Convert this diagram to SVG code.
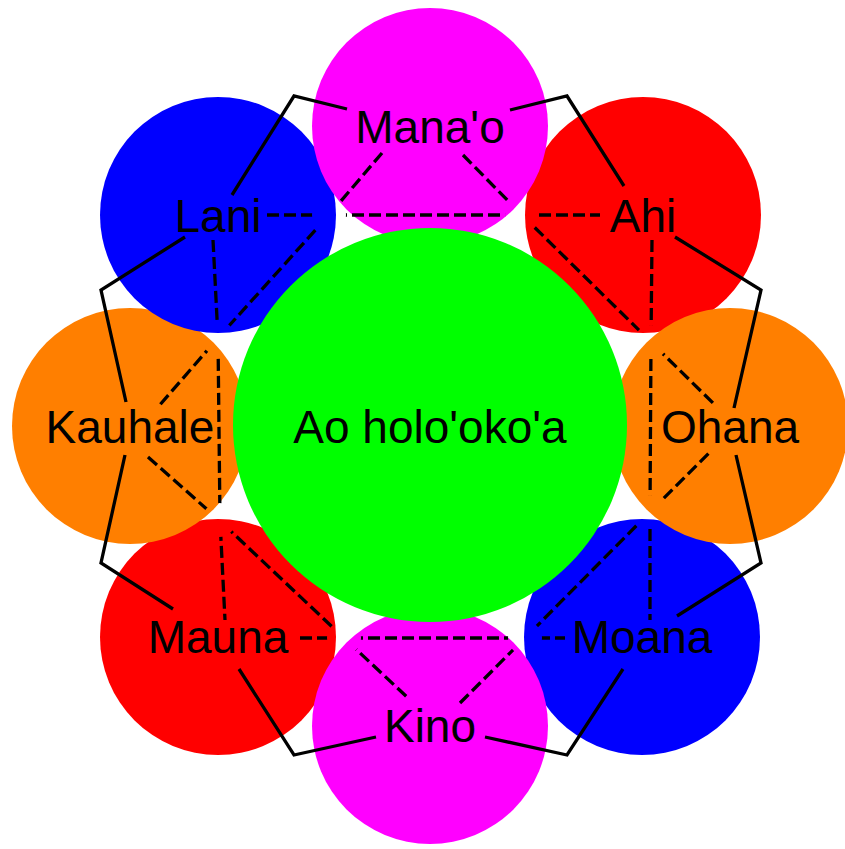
<svg xmlns="http://www.w3.org/2000/svg" width="845" height="849" viewBox="0 0 845 849">
<style>
.lbl{font-family:"Liberation Sans",Arial,sans-serif;font-size:46px;fill:#000;text-anchor:middle}
.solid{fill:none;stroke:#000;stroke-width:3.3;stroke-linejoin:miter}
.dash{fill:none;stroke:#000;stroke-width:3.3;stroke-dasharray:12,5}
</style>
<defs>
<mask id="gaps" maskUnits="userSpaceOnUse" x="0" y="0" width="845" height="849">
<rect x="0" y="0" width="845" height="849" fill="#fff"/>
<circle cx="329" cy="215" r="17" fill="#000"/>
<circle cx="522" cy="215" r="17" fill="#000"/>
<circle cx="218" cy="338" r="17" fill="#000"/>
<circle cx="651" cy="342" r="17" fill="#000"/>
<circle cx="219" cy="520" r="17" fill="#000"/>
<circle cx="650" cy="512" r="17" fill="#000"/>
<circle cx="344" cy="638" r="17" fill="#000"/>
<circle cx="525" cy="638" r="17" fill="#000"/>
</mask>
</defs>
<g id="circles">
<circle id="c-mauna" cx="218" cy="637" r="118" fill="#ff0000"/>
<circle id="c-ahi" cx="643" cy="215" r="118" fill="#ff0000"/>
<circle id="c-moana" cx="642" cy="637" r="118" fill="#0000ff"/>
<circle id="c-kino" cx="430" cy="726" r="118" fill="#ff00ff"/>
<circle id="c-kauhale" cx="130" cy="426" r="118" fill="#ff7f00"/>
<circle id="c-lani" cx="218" cy="215" r="118" fill="#0000ff"/>
<circle id="c-manao" cx="430" cy="126" r="118" fill="#ff00ff"/>
<circle id="c-ohana" cx="730" cy="426" r="118" fill="#ff7f00"/>
<circle id="c-center" cx="430" cy="425" r="197" fill="#00ff00"/>
</g>
<g id="connectors">
<g mask="url(#gaps)">
<path class="dash" d="M267,215 H600"/>
<path class="dash" d="M300,638 H565"/>
<path class="dash" d="M213,240 L218,338 L220,520 L225,620"/>
<path class="dash" d="M652,240 L651,342 L650,512 L650,620"/>
<path class="dash" d="M382,153 L329,215 L218,338 L158,407"/>
<path class="dash" d="M463,155 L522,215 L651,342 L713,403"/>
<path class="dash" d="M148,457 L219,520 L344,638 L407,697"/>
<path class="dash" d="M460,703 L525,638 L650,512 L710,452"/>
</g>
<path class="solid" d="M347,109 L294,96 L232,195"/>
<path class="solid" d="M510,110 L567,96 L624,186"/>
<path class="solid" d="M675,237 L761,290 L734,408"/>
<path class="solid" d="M185,237 L101,290 L126,402"/>
<path class="solid" d="M125,455 L101,563 L173,609"/>
<path class="solid" d="M736,455 L761,563 L677,616"/>
<path class="solid" d="M239,669 L294,755 L376,737"/>
<path class="solid" d="M485,737 L567,755 L623,669"/>
</g>
<g id="n-center"><text class="lbl" x="430" y="443">Ao holo'oko'a</text></g>
<g id="n-manao"><text class="lbl" x="430" y="143">Mana'o</text></g>
<g id="n-ahi"><text class="lbl" x="643" y="232">Ahi</text></g>
<g id="n-ohana"><text class="lbl" x="730" y="443">Ohana</text></g>
<g id="n-moana"><text class="lbl" x="642" y="653">Moana</text></g>
<g id="n-kino"><text class="lbl" x="430" y="742">Kino</text></g>
<g id="n-mauna"><text class="lbl" x="218" y="653">Mauna</text></g>
<g id="n-kauhale"><text class="lbl" x="130" y="443">Kauhale</text></g>
<g id="n-lani"><text class="lbl" x="218" y="232">Lani</text></g>
</svg>
